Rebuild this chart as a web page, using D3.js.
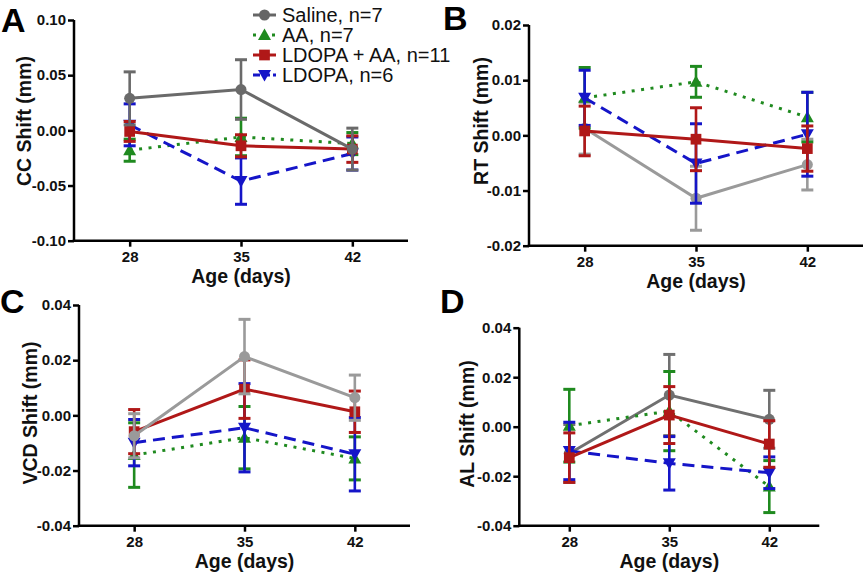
<!DOCTYPE html>
<html><head><meta charset="utf-8">
<script src="https://cdn.jsdelivr.net/npm/d3@7"></script>
<style>
html,body{margin:0;padding:0;background:#fff;}
svg{display:block;font-family:"Liberation Sans",Arial,sans-serif;}
</style></head>
<body>
<svg id="chart" width="867" height="576"></svg>
<script>
// ---------- data ----------
const ages = [28, 35, 42];
const ageTicks = [28, 35, 42];
const seriesNames = ["Saline, n=7", "AA, n=7", "LDOPA + AA, n=11", "LDOPA, n=6"];

// order of rows: Saline, AA, LDOPA + AA, LDOPA
const ccMean = [[0.029, 0.037, -0.017], [-0.018, -0.006, -0.012], [-0.001, -0.014, -0.017], [0.005, -0.046, -0.021]];
const ccSE   = [[0.024, 0.027, 0.019], [0.010, 0.017, 0.010], [0.009, 0.010, 0.012], [0.019, 0.021, 0.015]];
const ccTicks = [-0.10, -0.05, 0.00, 0.05, 0.10];

const rtMean = [[0.0013, -0.0114, -0.0053], [0.0068, 0.0097, 0.0033], [0.0008, -0.0007, -0.0024], [0.0068, -0.0051, 0.0002]];
const rtSE   = [[0.0047, 0.0058, 0.0046], [0.0055, 0.0028, 0.0045], [0.0045, 0.0057, 0.0041], [0.0050, 0.0072, 0.0076]];
const rtTicks = [-0.02, -0.01, 0.00, 0.01, 0.02];

const vcdMean = [[-0.0074, 0.0213, 0.0064], [-0.0144, -0.0081, -0.0156], [-0.0059, 0.0095, 0.0013], [-0.0099, -0.0045, -0.0141]];
const vcdSE   = [[0.0080, 0.0135, 0.0082], [0.0117, 0.0113, 0.0078], [0.0080, 0.0106, 0.0075], [0.0084, 0.0160, 0.0133]];
const vcdTicks = [-0.04, -0.02, 0.00, 0.02, 0.04];

const alMean = [[-0.0108, 0.0128, 0.0030], [0.0004, 0.0063, -0.0242], [-0.0125, 0.0047, -0.0070], [-0.0098, -0.0148, -0.0186]];
const alSE   = [[0.0117, 0.0164, 0.0117], [0.0147, 0.0160, 0.0105], [0.0100, 0.0115, 0.0094], [0.0116, 0.0108, 0.0064]];
const alTicks = [-0.04, -0.02, 0.00, 0.02, 0.04];

// ---------- styles ----------
const seriesColors = ["#666666", "#1f8a1f", "#b01818", "#1515c8"];
const seriesDash = [null, "3,6.5", null, "12,7"];
const seriesSymbol = ["circle", "triangle", "square", "invtriangle"];
const font = '"Liberation Sans",Arial,sans-serif';

const svg = d3.select("#chart");

function symbolPath(kind) {
  if (kind === "circle") return d3.symbol(d3.symbolCircle, 95)();
  if (kind === "square") return d3.symbol(d3.symbolSquare, 115)();
  if (kind === "triangle") return "M0,-6.5L6.5,5L-6.5,5Z";
  return "M0,6.5L6.5,-5L-6.5,-5Z";
}

function drawPanel(cfg) {
  const g = svg.append("g");
  const x = d3.scaleLinear().domain([24.5, 45.5]).range([cfg.x0, cfg.x1]);
  const y = d3.scaleLinear().domain([cfg.ticks[0], cfg.ticks[cfg.ticks.length - 1]]).range([cfg.yb, cfg.yt]);
  const fmt = d => d.toFixed(2);

  const ya = g.append("g").attr("transform", `translate(${cfg.x0},0)`)
    .call(d3.axisLeft(y).tickValues(cfg.ticks).tickFormat(fmt).tickSize(6).tickSizeOuter(0).tickPadding(2));
  const xa = g.append("g").attr("transform", `translate(0,${cfg.yb})`)
    .call(d3.axisBottom(x).tickValues(ageTicks).tickFormat(d3.format("d")).tickSize(6).tickSizeOuter(0).tickPadding(5));
  [ya, xa].forEach(a => {
    a.selectAll("path").attr("stroke", "#000").attr("stroke-width", 2.5);
    a.selectAll("line").attr("stroke", "#000").attr("stroke-width", 2.5);
    a.selectAll("text").attr("font-size", 15).attr("font-weight", "bold").attr("fill", "#111").attr("font-family", font);
  });
  ya.select("path").attr("d", `M0,${cfg.yt}V${cfg.yb + 1.25}`);
  xa.select("path").attr("d", `M${cfg.x0 - 1.25},0H${cfg.x1}`);

  g.append("text").attr("x", (x(28) + x(42)) / 2).attr("y", cfg.xTitleY)
    .attr("text-anchor", "middle").attr("font-size", 19.5).attr("font-weight", "bold")
    .attr("font-family", font).attr("fill", "#111").text("Age (days)");
  g.append("text").attr("transform", `translate(${cfg.yTitleX},${cfg.yTitleCY}) rotate(-90)`)
    .attr("text-anchor", "middle").attr("font-size", 19.5).attr("font-weight", "bold")
    .attr("font-family", font).attr("fill", "#111").text(cfg.yTitle);
  g.append("text").attr("x", cfg.letterX).attr("y", cfg.letterY)
    .attr("font-size", 34).attr("font-weight", "bold").attr("font-family", font)
    .attr("fill", "#000").text(cfg.letter);

  const colors = seriesColors.slice();
  colors[0] = cfg.salineColor;

  cfg.order.forEach(si => {
    const c = colors[si];
    const sg = g.append("g");
    const pts = ages.map((a, i) => ({ a, m: cfg.mean[si][i], s: cfg.se[si][i] }));
    pts.forEach(p => {
      sg.append("line").attr("x1", x(p.a)).attr("x2", x(p.a))
        .attr("y1", y(p.m - p.s)).attr("y2", y(p.m + p.s))
        .attr("stroke", c).attr("stroke-width", 2.6);
      [p.m - p.s, p.m + p.s].forEach(v => {
        sg.append("line").attr("x1", x(p.a) - 6).attr("x2", x(p.a) + 6)
          .attr("y1", y(v)).attr("y2", y(v)).attr("stroke", c).attr("stroke-width", 3);
      });
    });
    sg.append("path").datum(pts)
      .attr("d", d3.line().x(p => x(p.a)).y(p => y(p.m)))
      .attr("fill", "none").attr("stroke", c).attr("stroke-width", 3)
      .attr("stroke-dasharray", seriesDash[si]);
    sg.selectAll(".mk").data(pts).enter().append("path")
      .attr("d", symbolPath(seriesSymbol[si]))
      .attr("transform", p => `translate(${x(p.a)},${y(p.m)})`)
      .attr("fill", c);
  });
}

drawPanel({ letter: "A", letterX: 1, letterY: 32, x0: 74, x1: 408, yt: 20, yb: 240.7,
  ticks: ccTicks, mean: ccMean, se: ccSE, yTitle: "CC Shift (mm)", yTitleX: 31, yTitleCY: 121,
  xTitleY: 283, salineColor: "#6a6a6a", order: [1, 3, 2, 0] });
drawPanel({ letter: "B", letterX: 443, letterY: 30, x0: 529, x1: 863, yt: 25, yb: 245.7,
  ticks: rtTicks, mean: rtMean, se: rtSE, yTitle: "RT Shift (mm)", yTitleX: 488, yTitleCY: 121,
  xTitleY: 288, salineColor: "#9a9a9a", order: [0, 1, 3, 2] });
drawPanel({ letter: "C", letterX: 0, letterY: 313, x0: 79, x1: 410, yt: 305, yb: 525.7,
  ticks: vcdTicks, mean: vcdMean, se: vcdSE, yTitle: "VCD Shift (mm)", yTitleX: 37, yTitleCY: 413,
  xTitleY: 568, salineColor: "#9a9a9a", order: [1, 3, 2, 0] });
drawPanel({ letter: "D", letterX: 440, letterY: 313, x0: 519.3, x1: 819.3, yt: 327.7, yb: 525.7,
  ticks: alTicks, mean: alMean, se: alSE, yTitle: "AL Shift (mm)", yTitleX: 474, yTitleCY: 424,
  xTitleY: 568, salineColor: "#707070", order: [0, 1, 3, 2] });

// ---------- legend ----------
const leg = svg.append("g");
seriesNames.forEach((name, i) => {
  const yy = 15 + i * 20;
  leg.append("line").attr("x1", 253).attr("x2", 276).attr("y1", yy).attr("y2", yy)
    .attr("stroke", seriesColors[i]).attr("stroke-width", 3)
    .attr("stroke-dasharray", seriesDash[i] ? (i === 1 ? "3,6.5" : "7,3") : null);
  leg.append("path").attr("d", symbolPath(seriesSymbol[i]))
    .attr("transform", `translate(264.5,${yy})`).attr("fill", seriesColors[i]);
  leg.append("text").attr("x", 282).attr("y", yy + 7).attr("font-size", 20)
    .attr("font-family", font).attr("fill", "#111").text(name);
});
</script>
</body></html>
